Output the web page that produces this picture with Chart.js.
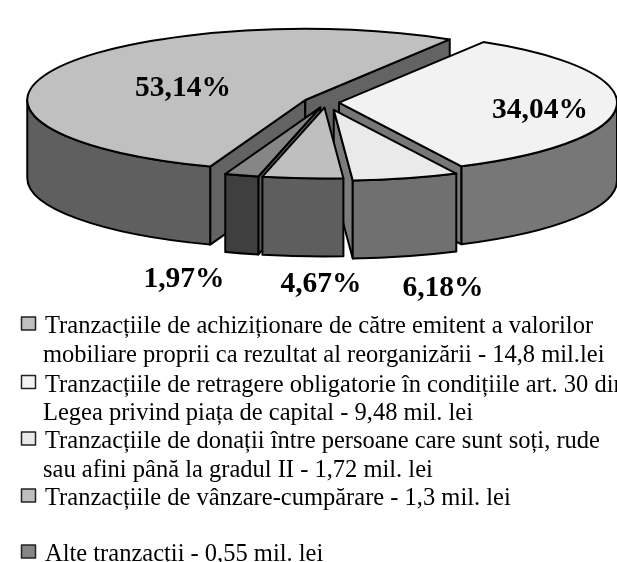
<!DOCTYPE html>
<html lang="ro">
<head>
<meta charset="utf-8">
<title>Tranzacții</title>
<script src="https://cdn.jsdelivr.net/npm/chart.js@4"></script>
<style>
html,body{margin:0;padding:0;background:#fff;overflow:hidden}
canvas{display:block}
</style>
</head>
<body>
<canvas id="c" width="617" height="562"></canvas>
<script>
// ---- data ----
const categories = [
  ["Tranzacțiile de achiziționare de către emitent a valorilor", "mobiliare proprii ca rezultat al reorganizării - 14,8 mil.lei"],
  ["Tranzacțiile de retragere obligatorie în condițiile art. 30 din", "Legea privind piața de capital - 9,48 mil. lei"],
  ["Tranzacțiile de donații între persoane care sunt soți, rude", "sau afini până la gradul II - 1,72 mil. lei"],
  ["Tranzacțiile de vânzare-cumpărare - 1,3 mil. lei", ""],
  ["Alte tranzacții - 0,55 mil. lei"]
];
const values = [14.8, 9.48, 1.72, 1.3, 0.55];
const percentLabels = ["53,14%", "34,04%", "6,18%", "4,67%", "1,97%"];

// ---- styles ----
const topColors   = ["#c0c0c0", "#f2f2f2", "#eaeaea", "#bfbfbf", "#868686"];
const sideColors  = ["#5f5f5f", "#777777", "#707070", "#5e5e5e", "#3f3f3f"];
const wallColors  = ["#636363", "#777777", "#7c7c7c", "#5e5e5e", "#585858"];
const explode     = [23, 13, 30, 20, 20];
const sideOrder   = [0, 1, 4, 2, 3];
const labelPos    = [[183, 88.5], [540, 110.5], [443, 288.5], [321, 284.5], [184, 279.5]];
const legendRows  = [333, 391.5, 448, 505, 561];
const pieCenter   = {x: 326, y: 102.5};
const squash      = 0.255;
const depth       = 78;
const radius      = 278;
const LINE = 2;
const ROW = 28.8;

function apexOf(arc, i) {
  const mid = (arc.startAngle + arc.endAngle) / 2;
  return {
    x: pieCenter.x + Math.cos(mid) * explode[i],
    y: pieCenter.y + Math.sin(mid) * explode[i] * squash
  };
}
function onEllipse(a, ang, dz) {
  return [a.x + radius * Math.cos(ang), a.y + radius * squash * Math.sin(ang) + (dz || 0)];
}
function paint(ctx, fill) {
  ctx.fillStyle = fill;
  ctx.fill();
  ctx.lineWidth = LINE;
  ctx.lineJoin = 'round';
  ctx.strokeStyle = '#000';
  ctx.stroke();
}
function wall(ctx, a, ang, fill) {
  const p = onEllipse(a, ang);
  ctx.beginPath();
  ctx.moveTo(a.x, a.y);
  ctx.lineTo(p[0], p[1]);
  ctx.lineTo(p[0], p[1] + depth);
  ctx.lineTo(a.x, a.y + depth);
  ctx.closePath();
  paint(ctx, fill);
}
function outer(ctx, a, lo, hi, fill) {
  ctx.beginPath();
  ctx.ellipse(a.x, a.y, radius, radius * squash, 0, lo, hi);
  ctx.ellipse(a.x, a.y + depth, radius, radius * squash, 0, hi, lo, true);
  ctx.closePath();
  paint(ctx, fill);
}

const pie3d = {
  id: 'pie3d',
  beforeDatasetsDraw(chart) {
    const ctx = chart.ctx, arcs = chart.getDatasetMeta(0).data;
    sideOrder.forEach(i => {
      const arc = arcs[i], a = apexOf(arc, i);
      if (Math.cos(arc.startAngle) < 0) wall(ctx, a, arc.startAngle, wallColors[i]);
      if (Math.cos(arc.endAngle) > 0) wall(ctx, a, arc.endAngle, wallColors[i]);
      for (let k = 0; k < 2; k++) {
        const lo = Math.max(arc.startAngle, 2 * Math.PI * k);
        const hi = Math.min(arc.endAngle, Math.PI + 2 * Math.PI * k);
        if (hi > lo) outer(ctx, a, lo, hi, sideColors[i]);
      }
    });
  },
  beforeDatasetDraw(chart) {
    const ctx = chart.ctx, arcs = chart.getDatasetMeta(0).data;
    arcs.forEach((arc, i) => {
      const a = apexOf(arc, i);
      ctx.save();
      ctx.translate(a.x, a.y);
      ctx.scale(1, squash);
      ctx.translate(-arc.x, -arc.y);
      arc.draw(ctx);
      ctx.restore();
      ctx.beginPath();
      ctx.moveTo(a.x, a.y);
      ctx.ellipse(a.x, a.y, radius, radius * squash, 0, arc.startAngle, arc.endAngle);
      ctx.closePath();
      ctx.lineWidth = LINE;
      ctx.lineJoin = 'round';
      ctx.strokeStyle = '#000';
      ctx.stroke();
    });
    return false;
  },
  afterDraw(chart) {
    const ctx = chart.ctx;
    ctx.save();
    ctx.fillStyle = '#000';
    ctx.font = 'bold 29.5px "Liberation Serif"';
    ctx.textAlign = 'center';
    ctx.textBaseline = 'middle';
    percentLabels.forEach((t, i) => ctx.fillText(t, labelPos[i][0], labelPos[i][1]));
    ctx.font = '24.5px "Liberation Serif"';
    ctx.textAlign = 'left';
    ctx.textBaseline = 'alphabetic';
    categories.forEach((lines, i) => {
      const y0 = legendRows[i];
      ctx.fillStyle = topColors[i];
      ctx.strokeStyle = '#222';
      ctx.lineWidth = 1.5;
      ctx.fillRect(21.5, y0 - 16, 14, 13);
      ctx.strokeRect(21.5, y0 - 16, 14, 13);
      ctx.fillStyle = '#000';
      lines.forEach((t, j) => {
        if (t) ctx.fillText(t, j === 0 ? 45 : 43, y0 + j * ROW);
      });
    });
    ctx.restore();
  }
};

new Chart(document.getElementById('c'), {
  type: 'pie',
  data: {
    labels: categories.map(l => l.join(' ').trim()),
    datasets: [{
      data: values,
      backgroundColor: topColors,
      borderWidth: 0,
      radius: radius
    }]
  },
  options: {
    responsive: false,
    animation: false,
    rotation: 200,
    plugins: { legend: { display: false }, tooltip: { enabled: false } }
  },
  plugins: [pie3d]
});
</script>
</body>
</html>
